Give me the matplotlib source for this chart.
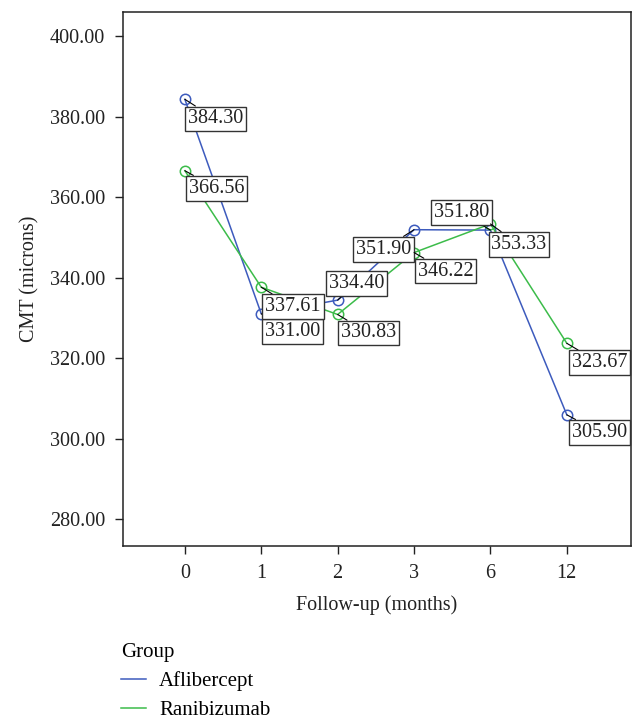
# Gráfico de líneas: CMT medio por grupo durante el seguimiento.
import matplotlib
matplotlib.use("Agg")
import matplotlib.pyplot as plt

# datos.
meses = ["0", "1", "2", "3", "6", "12"]
aflibercept = [384.30, 331.00, 334.40, 351.90, 351.80, 305.90]
ranibizumab = [366.56, 337.61, 330.83, 346.22, 353.33, 323.67]

# posición de cada etiqueta (desplazamiento en píxeles y alineación).
pos_afli = [((3, -10), "left", "top"), ((4, -8), "left", "top"),
            ((-9, 7), "left", "bottom"), ((-3, -10), "right", "top"),
            ((-1, 8), "right", "bottom"), ((5, -8), "left", "top")]
pos_rani = [((4, -8), "left", "top"), ((4, -10), "left", "top"),
            ((3, -9), "left", "top"), ((4, -9), "left", "top"),
            ((1, -11), "left", "top"), ((5, -10), "left", "top")]

azul = "#3d5bbd"
verde = "#3cbc4a"

plt.rcParams["font.family"] = ["Liberation Serif", "DejaVu Serif"]
plt.rcParams["font.size"] = 14.5

fig = plt.figure(figsize=(6.33, 7.18), dpi=100)
ax = fig.add_axes([123 / 633, 1 - 546 / 718, 508 / 633, 534 / 718])

x = list(range(len(meses)))
l1, = ax.plot(x, aflibercept, color=azul, lw=1.1, marker="o", ms=7.5,
              mfc="none", mec=azul, mew=1.1)
l2, = ax.plot(x, ranibizumab, color=verde, lw=1.1, marker="o", ms=7.5,
              mfc="none", mec=verde, mew=1.1)

# etiquetas con caja.
for serie, posiciones in [(aflibercept, pos_afli), (ranibizumab, pos_rani)]:
    for xi, v, (off, ha, va) in zip(x, serie, posiciones):
        ax.annotate(f"{v:.2f}", xy=(xi, v), xytext=off, textcoords="offset pixels",
                    ha=ha, va=va, fontsize=14.5, color="#222222",
                    bbox=dict(boxstyle="square,pad=0.14", fc="white", ec="#333333", lw=1),
                    arrowprops=dict(arrowstyle="-", color="black", lw=0.8,
                                    shrinkA=0, shrinkB=0))

ax.set_xlim(-0.81, 5.84)
ax.set_ylim(273.3, 406)
ax.set_xticks(x)
ax.set_xticklabels(meses)
ax.set_yticks([280, 300, 320, 340, 360, 380, 400])
ax.set_yticklabels([f"{t:.2f}" for t in [280, 300, 320, 340, 360, 380, 400]])
ax.tick_params(direction="out", length=6, width=1, colors="#222222", labelsize=14.5)
ax.tick_params(axis="y", pad=7)
ax.tick_params(axis="x", pad=7)
for s in ax.spines.values():
    s.set_linewidth(1.1)
    s.set_color("#222222")

ax.set_xlabel("Follow-up (months)", fontsize=14.5, color="#222222", labelpad=9)
ax.set_ylabel("CMT (microns)", fontsize=14.5, color="#222222", labelpad=7)

fig.legend([l1, l2], ["Aflibercept", "Ranibizumab"], title="Group",
           loc="upper left", bbox_to_anchor=(121 / 633, 1 - 643 / 718),
           frameon=False, alignment="left", borderpad=0, borderaxespad=0,
           handlelength=1.2, handletextpad=0.62, labelspacing=0.45,
           fontsize=15, title_fontsize=15)
for h in fig.legends[0].legend_handles:
    h.set_marker("")

fig.savefig("out.png", dpi=100)
